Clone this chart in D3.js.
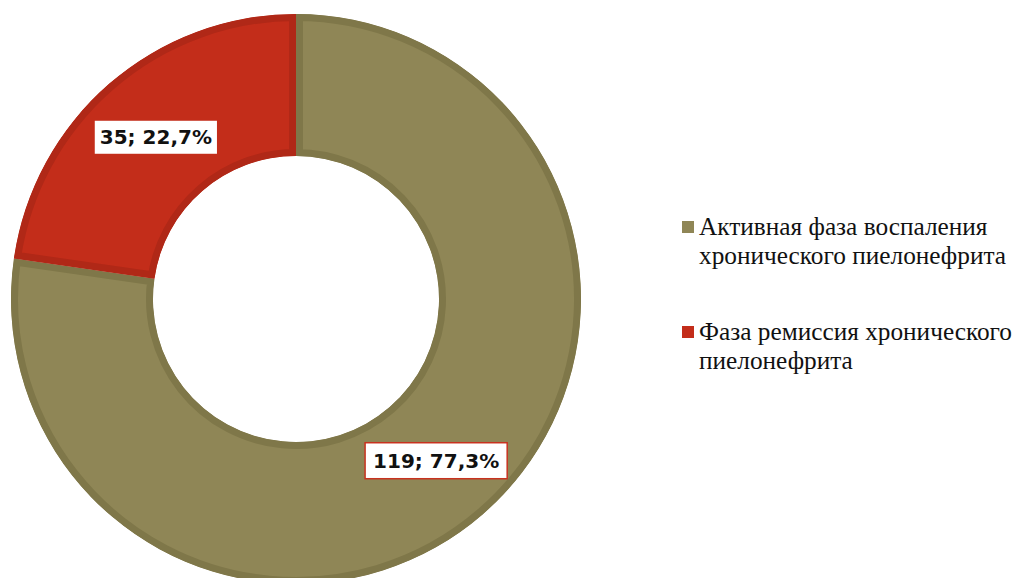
<!DOCTYPE html>
<html><head><meta charset="utf-8">
<script src="https://cdn.jsdelivr.net/npm/d3@7"></script>
<style>body{margin:0;background:#fff}</style>
</head><body>
<svg id="c" width="1018" height="578"></svg>
<script>
const categories = ["Активная фаза воспаления хронического пиелонефрита", "Фаза ремиссия хронического пиелонефрита"];
const legendLines = [["Активная фаза воспаления", "хронического пиелонефрита"], ["Фаза ремиссия хронического", "пиелонефрита"]];
const values = [119, 35];
const percentLabels = ["77,3%", "22,7%"];
const fillColors = ["#8f8656", "#c32d1a"];
const borderColors = ["#7f7749", "#b02817"];

const svg = d3.select("#c");
const cx = 296, cy = 299, rOuter = 285, rInner = 143;
const pie = d3.pie().sort(null).value(d => d).startAngle(0).endAngle(2*Math.PI);
const arcs = pie(values);
const arc = d3.arc().innerRadius(rInner).outerRadius(rOuter);
const g = svg.append("g").attr("transform", `translate(${cx},${cy})`);
const defs = svg.append("defs");
arcs.forEach((a, i) => {
  defs.append("clipPath").attr("id", "clip" + i).append("path").attr("d", arc(a));
});
g.selectAll("path.slice").data(arcs).join("path")
  .attr("class", "slice")
  .attr("d", arc)
  .attr("fill", (d, i) => fillColors[i])
  .attr("stroke", (d, i) => borderColors[i])
  .attr("stroke-width", 14)
  .attr("clip-path", (d, i) => `url(#clip${i})`);

arcs.forEach((a, i) => {
  const [x, y] = arc.centroid(a);
  const lg = g.append("g").attr("transform", `translate(${x},${y})`);
  const rect = lg.append("rect");
  const t = lg.append("text")
    .style("font-family", '"DejaVu Sans"').style("font-weight", "bold")
    .attr("text-anchor", "middle").attr("dy", "0.36em")
    .attr("font-size", 20).attr("fill", "#111")
    .text(values[i] + "; " + percentLabels[i]);
  const w = t.node().getComputedTextLength();
  const padX = i === 0 ? 8 : 5, h = i === 0 ? 36 : 33;
  rect.attr("x", -w/2 - padX).attr("y", -h/2).attr("width", w + 2*padX).attr("height", h)
    .attr("fill", "#fff")
    .attr("stroke", i === 0 ? "#c8321f" : "none").attr("stroke-width", 1.5);
});

const legendX = 682, legendY = [221, 326];
legendLines.forEach((lines, i) => {
  const lg = svg.append("g").attr("transform", `translate(${legendX},${legendY[i]})`);
  lg.append("rect").attr("width", 12).attr("height", 12).attr("fill", fillColors[i]);
  lines.forEach((ln, j) => {
    lg.append("text").style("font-family", '"Liberation Serif"').attr("x", 17).attr("y", 14 + j*29)
      .style("font-size", "25.3px").attr("fill", "#111").text(ln);
  });
});
</script>
</body></html>
